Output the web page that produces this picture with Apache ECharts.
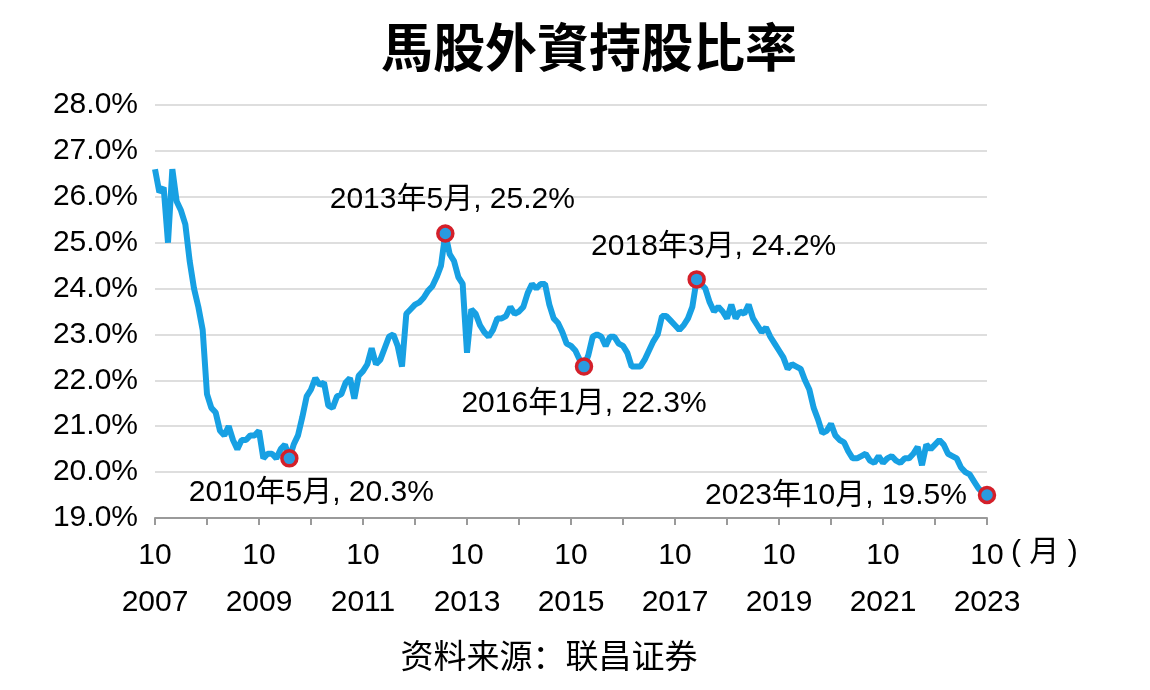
<!DOCTYPE html>
<html>
<head>
<meta charset="utf-8">
<script src="https://cdn.jsdelivr.net/npm/echarts@6/dist/echarts.min.js"></script>
<style>
  html, body { margin: 0; padding: 0; background: #fff; }
  #chart { width: 1150px; height: 690px; }
</style>
</head>
<body>
<div id="chart"></div>
<script>
// monthly, Oct 2007 .. Oct 2023
var startYear = 2007, startMonth = 10, monthCount = 193;
var months = [];
for (var k = 0; k < monthCount; k++) {
    var m = startMonth - 1 + k;
    var y = startYear + Math.floor(m / 12);
    var mm = (m % 12) + 1;
    months.push(y + '-' + (mm < 10 ? '0' + mm : mm));
}

// foreign shareholding (%)
var foreignShare = [
    26.6, 26.1, 26.2, 25.0, 26.6, 25.9, 25.7, 25.4, 24.6, 24.0, 23.6, 23.1,
    21.7, 21.4, 21.3, 20.9, 20.8, 21.0, 20.7, 20.5, 20.7, 20.7, 20.8, 20.8,
    20.9, 20.3, 20.4, 20.4, 20.3, 20.5, 20.6, 20.3, 20.6, 20.8, 21.2, 21.65,
    21.8, 22.05, 21.9, 21.95, 21.45, 21.4, 21.65, 21.7, 21.95, 22.05, 21.6, 22.1,
    22.2, 22.35, 22.7, 22.35, 22.45, 22.7, 22.95, 23.0, 22.75, 22.3, 23.45, 23.55,
    23.65, 23.7, 23.8, 23.95, 24.05, 24.25, 24.5, 25.2, 24.75, 24.6, 24.25, 24.1,
    22.6, 23.55, 23.45, 23.2, 23.05, 22.95, 23.1, 23.35, 23.35, 23.4, 23.6, 23.45,
    23.5, 23.6, 23.9, 24.1, 24.0, 24.1, 24.1, 23.65, 23.35, 23.25, 23.05, 22.8,
    22.75, 22.65, 22.45, 22.3, 22.55, 22.95, 23.0, 22.95, 22.75, 22.95, 22.95, 22.8,
    22.75, 22.6, 22.3, 22.3, 22.3, 22.45, 22.65, 22.85, 23.0, 23.4, 23.4, 23.3,
    23.2, 23.1, 23.2, 23.35, 23.6, 24.2, 24.1, 24.0, 23.7, 23.5, 23.6, 23.5,
    23.35, 23.65, 23.35, 23.5, 23.45, 23.65, 23.35, 23.2, 23.05, 23.15, 22.95, 22.8,
    22.65, 22.5, 22.25, 22.35, 22.3, 22.25, 22.0, 21.8, 21.4, 21.15, 20.85, 20.9,
    21.05, 20.8, 20.7, 20.65, 20.45, 20.3, 20.3, 20.35, 20.4, 20.25, 20.2, 20.35,
    20.2, 20.3, 20.35, 20.25, 20.2, 20.3, 20.3, 20.4, 20.55, 20.15, 20.6, 20.5,
    20.6, 20.7, 20.6, 20.4, 20.35, 20.3, 20.1, 20.0, 19.95, 19.8, 19.65, 19.55,
    19.5
];

// highlighted points
var markMonths = ['2010-05', '2013-05', '2016-01', '2018-03', '2023-10'];
var markValues = [20.3, 25.2, 22.3, 24.2, 19.5];
var markTexts = ['2010年5月, 20.3%', '2013年5月, 25.2%', '2016年1月, 22.3%', '2018年3月, 24.2%', '2023年10月, 19.5%'];
var markOffsets = [[22, 34], [7, -34], [0, 37], [17, -33], [-151, 1]];

var yTicks = { min: 19, max: 28, step: 1 };

var latin = '"Liberation Sans", Arial, "Noto Sans CJK SC", sans-serif';

var markData = markMonths.map(function (mo, i) {
    return {
        value: [mo, markValues[i]],
        label: { offset: markOffsets[i], formatter: markTexts[i] }
    };
});

var chart = echarts.init(document.getElementById('chart'));
var option = {
    backgroundColor: '#ffffff',
    animation: false,
    title: {
        text: '馬股外資持股比率',
        left: 584,
        textAlign: 'center',
        top: 16,
        textStyle: {
            fontFamily: '"Noto Sans CJK TC", "Noto Sans CJK SC", sans-serif',
            fontSize: 52,
            fontWeight: 'bold',
            color: '#000'
        }
    },
    grid: {
        left: 155,
        right: 163,
        top: 105,
        bottom: 172
    },
    xAxis: {
        type: 'category',
        data: months,
        boundaryGap: false,
        axisLine: { lineStyle: { color: '#9a9a9a', width: 2 } },
        axisTick: {
            show: true,
            length: 7,
            interval: function (i) { return i % 12 === 0; },
            lineStyle: { color: '#9a9a9a', width: 2 }
        },
        axisLabel: {
            interval: function (i) { return i % 24 === 0; },
            margin: 14,
            fontFamily: latin,
            fontSize: 30,
            color: '#000',
            lineHeight: 47,
            formatter: function (val) {
                return val.slice(5) + '\n' + val.slice(0, 4);
            }
        },
        splitLine: { show: false }
    },
    yAxis: {
        type: 'value',
        min: yTicks.min,
        max: yTicks.max,
        interval: yTicks.step,
        axisLine: { show: false },
        axisTick: { show: false },
        axisLabel: {
            margin: 17,
            fontFamily: latin,
            fontSize: 30,
            color: '#000',
            formatter: function (v) { return v.toFixed(1) + '%'; }
        },
        splitLine: { lineStyle: { color: '#dedede', width: 2 } }
    },
    series: [{
        name: '外資持股',
        type: 'line',
        data: foreignShare,
        showSymbol: false,
        symbol: 'none',
        lineStyle: { color: '#17a0e3', width: 6 },
        z: 3
    }, {
        name: 'marks',
        type: 'scatter',
        data: markData,
        symbol: 'circle',
        symbolSize: 15,
        itemStyle: { color: '#2a9be0', borderColor: '#d4202a', borderWidth: 3.5, opacity: 1 },
        label: {
            show: true,
            position: 'inside',
            align: 'center',
            verticalAlign: 'middle',
            fontFamily: latin,
            fontSize: 30,
            color: '#000',
            opacity: 1,
            textBorderWidth: 0
        },
        z: 5
    }],
    graphic: [{
        type: 'text',
        x: 1011,
        y: 553,
        style: {
            text: '( 月 )',
            fontFamily: latin,
            fontSize: 30,
            fill: '#000',
            verticalAlign: 'middle'
        }
    }, {
        type: 'text',
        x: 549,
        y: 655,
        style: {
            text: '资料来源：联昌证券',
            fontFamily: '"Noto Sans CJK SC", sans-serif',
            fontSize: 33,
            fill: '#000',
            align: 'center',
            verticalAlign: 'middle'
        }
    }]
};
chart.setOption(option);
</script>
</body>
</html>
